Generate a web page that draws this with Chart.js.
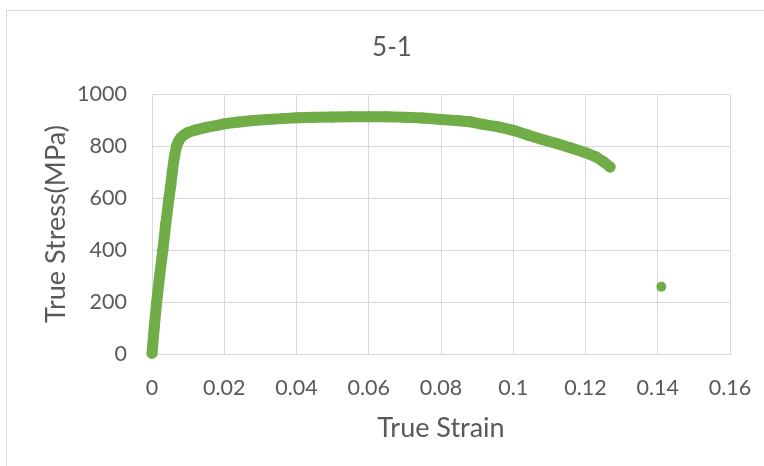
<!DOCTYPE html>
<html>
<head>
<meta charset="utf-8">
<script src="https://cdn.jsdelivr.net/npm/chart.js@4/dist/chart.umd.min.js"></script>
<style>
  html, body { margin: 0; padding: 0; background: #fff; overflow: hidden; }
  #wrap { position: relative; width: 764px; height: 466px; }
  #frame { position: absolute; left: 6px; top: 10px; width: 820px; height: 520px; border: 1px solid #d9d9d9; box-sizing: border-box; }
  #c { position: absolute; left: 0; top: 0; }
</style>
</head>
<body>
<div id="wrap">
  <div id="frame"></div>
  <canvas id="c" width="764" height="466"></canvas>
</div>
<script>
// Specimen 5-1: true stress vs true strain
const strain = [
  0, 0.0006, 0.0013, 0.0021, 0.0030, 0.0038, 0.0047, 0.0052, 0.0056, 0.0062,
  0.0068, 0.0074, 0.0080, 0.0090, 0.0100, 0.0120, 0.0150, 0.0180, 0.0200, 0.0240,
  0.0280, 0.0320, 0.0360, 0.0400, 0.0450, 0.0500, 0.0550, 0.0600, 0.0650, 0.0700,
  0.0750, 0.0800, 0.0850, 0.0880, 0.0920, 0.0960, 0.1000, 0.1040, 0.1080, 0.1120,
  0.1160, 0.1200, 0.1230, 0.1250, 0.1268
];
const stress = [
  3, 100, 200, 300, 400, 500, 600, 650, 700, 760,
  800, 820, 833, 845, 853, 862, 872, 880, 886, 893,
  899, 903, 906, 909, 911, 912, 913, 913, 913, 911,
  908, 903, 898, 894, 883, 874, 861, 843, 826, 810,
  793, 775, 758, 740, 720
];
// isolated reading after fracture
const fractureStrain = [0.141];
const fractureStress = [259];

const xTickLabels = ['0', '0.02', '0.04', '0.06', '0.08', '0.1', '0.12', '0.14', '0.16'];
const yTickLabels = ['0', '200', '400', '600', '800', '1000'];

const green = '#70AD47';
const textGray = '#595959';
const gridGray = '#d9d9d9';
const FONT = 'Lato, "Open Sans", sans-serif';

const curve = strain.map((x, i) => ({ x, y: stress[i] }));
const fracture = fractureStrain.map((x, i) => ({ x, y: fractureStress[i] }));

new Chart(document.getElementById('c'), {
  type: 'scatter',
  data: {
    datasets: [
      {
        data: curve,
        showLine: true,
        tension: 0,
        clip: false,
        borderColor: green,
        borderWidth: 11,
        borderCapStyle: 'round',
        borderJoinStyle: 'round',
        backgroundColor: green,
        pointRadius: 5.5,
        pointBorderWidth: 0,
        pointHoverRadius: 5.5
      },
      {
        data: fracture,
        showLine: false,
        clip: false,
        backgroundColor: green,
        borderColor: green,
        pointRadius: 5,
        pointBorderWidth: 0
      }
    ]
  },
  options: {
    responsive: false,
    animation: false,
    devicePixelRatio: 1,
    layout: { padding: { left: 54, right: 34, top: 0, bottom: 0 } },
    plugins: {
      legend: { display: false },
      tooltip: { enabled: false },
      title: {
        display: true,
        text: '5-1',
        color: textGray,
        font: { family: FONT, size: 26, weight: 'normal' },
        padding: { top: 32, bottom: 31 }
      }
    },
    scales: {
      x: {
        type: 'linear',
        min: 0,
        max: 0.16,
        afterFit: (s) => { s.height = 112; },
        ticks: {
          stepSize: 0.02,
          color: textGray,
          padding: 8,
          font: { family: FONT, size: 21.5 },
          callback: (v, i) => xTickLabels[i]
        },
        grid: { color: gridGray, drawTicks: true, tickLength: 13, tickColor: 'rgba(0,0,0,0)' },
        border: { color: gridGray },
        title: {
          display: true,
          text: 'True Strain',
          color: textGray,
          font: { family: FONT, size: 27 },
          padding: { top: 0, bottom: 22 }
        }
      },
      y: {
        type: 'linear',
        min: 0,
        max: 1000,
        afterFit: (s) => { s.width = 98; },
        ticks: {
          stepSize: 200,
          color: textGray,
          padding: 25,
          font: { family: FONT, size: 21.5 },
          callback: (v, i) => yTickLabels[i]
        },
        grid: { color: gridGray, drawTicks: false },
        border: { color: gridGray },
        title: {
          display: true,
          text: 'True Stress(MPa)',
          color: textGray,
          font: { family: FONT, size: 27 },
          padding: { top: -14, bottom: 0 }
        }
      }
    }
  }
});
</script>
</body>
</html>
